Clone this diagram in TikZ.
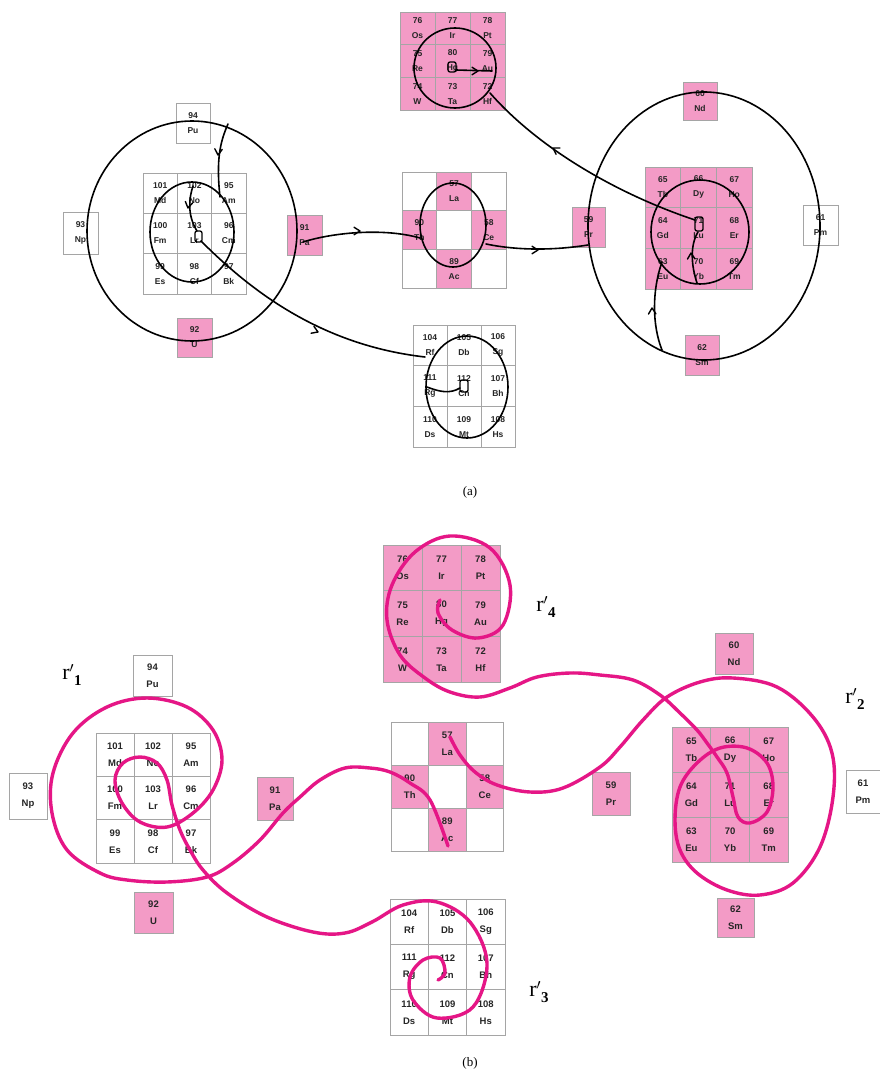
\documentclass[tikz,border=0pt]{standalone}
\usepackage{fontspec}
\setmainfont{Liberation Serif}
\newfontfamily\cellsans{Liberation Sans}
\usetikzlibrary{arrows.meta}

\definecolor{cellpink}{RGB}{243,155,198}
\definecolor{cellline}{RGB}{165,165,165}
\definecolor{spiral}{RGB}{229,22,134}

% a 3x3 block of element tiles: prefix, x0, y0, width, height, style, entries
\newcommand\tilegrid[7]{%
  \foreach \c/\r/\n/\s/\f [count=\k] in {#7}
    \node[#6, fill=\f, minimum width=#4pt, minimum height=#5pt]
      (#1\k) at ({#2+#4*\c},{#3+#5*\r}) {\n\\\s};}

% an open arrow barb with its tip at a named coordinate, pointing along an angle
\newcommand\barbat[2]{%
  \draw[ink, line width=1.4pt] (#1) ++(#2+148:7) -- (#1) -- ++(#2-148:7);}

% radius label r' with a bold index
\newcommand\rlabel[1]{r$'$\raisebox{-6pt}{\fontsize{15}{15}\selectfont\bfseries #1}}

\begin{document}
\begin{tikzpicture}[x=1pt,y=-1pt,
  cell/.style={draw=cellline, line width=0.5pt, inner sep=0pt, outer sep=0pt,
               anchor=north west, align=center, text=black!85},
  ca/.style={cell, font={\cellsans\bfseries\fontsize{8.5}{15}\selectfont}},
  cb/.style={cell, font={\cellsans\bfseries\fontsize{9.5}{17}\selectfont}},
  ink/.style={line width=1.6pt, black, line cap=round, line join=round},
  pinkline/.style={line width=3.4pt, spiral, line cap=round, line join=round},
  lbl/.style={inner sep=0pt, font=\fontsize{22}{22}\selectfont},
  captext/.style={inner sep=0pt, font=\fontsize{13}{13}\selectfont},
]
\fill[white] (0,0) rectangle (880,1078);
\useasboundingbox (0,0) rectangle (880,1078);

% ---------------- panel (a): element tiles ----------------
\tilegrid{aL}{143}{173}{34.3}{40.3}{ca}{0/0/101/Md/white, 1/0/102/No/white, 2/0/95/Am/white,
  0/1/100/Fm/white, 1/1/103/Lr/white, 2/1/96/Cm/white, 0/2/99/Es/white, 1/2/98/Cf/white, 2/2/97/Bk/white}
\tilegrid{aM}{402}{172}{34.7}{38.7}{ca}{0/0/{}/{}/white, 1/0/57/La/cellpink, 2/0/{}/{}/white,
  0/1/90/Th/cellpink, 1/1/{}/{}/white, 2/1/58/Ce/cellpink, 0/2/{}/{}/white, 1/2/89/Ac/cellpink, 2/2/{}/{}/white}
\tilegrid{aT}{400}{12}{35}{32.7}{ca}{0/0/76/Os/cellpink, 1/0/77/Ir/cellpink, 2/0/78/Pt/cellpink,
  0/1/75/Re/cellpink, 1/1/80/Hg/cellpink, 2/1/79/Au/cellpink, 0/2/74/W/cellpink, 1/2/73/Ta/cellpink, 2/2/72/Hf/cellpink}
\tilegrid{aB}{413}{325}{34}{40.7}{ca}{0/0/104/Rf/white, 1/0/105/Db/white, 2/0/106/Sg/white,
  0/1/111/Rg/white, 1/1/112/Cn/white, 2/1/107/Bh/white, 0/2/110/Ds/white, 1/2/109/Mt/white, 2/2/108/Hs/white}
\tilegrid{aR}{645}{167}{35.7}{40.7}{ca}{0/0/65/Tb/cellpink, 1/0/66/Dy/cellpink, 2/0/67/Ho/cellpink,
  0/1/64/Gd/cellpink, 1/1/71/Lu/cellpink, 2/1/68/Er/cellpink, 0/2/63/Eu/cellpink, 1/2/70/Yb/cellpink, 2/2/69/Tm/cellpink}

\node[ca, fill=white,    minimum width=34pt, minimum height=40pt] (aPu) at (176,103) {94\\Pu};
\node[ca, fill=white,    minimum width=35pt, minimum height=42pt] (aNp) at (63,212)  {93\\Np};
\node[ca, fill=cellpink, minimum width=35pt, minimum height=40pt] (aPa) at (287,215) {91\\Pa};
\node[ca, fill=cellpink, minimum width=35pt, minimum height=39pt] (aU)  at (177,318) {92\\U};
\node[ca, fill=cellpink, minimum width=34pt, minimum height=38pt] (aNd) at (683,82)  {60\\Nd};
\node[ca, fill=cellpink, minimum width=33pt, minimum height=40pt] (aPr) at (572,207) {59\\Pr};
\node[ca, fill=white,    minimum width=35pt, minimum height=40pt] (aPm) at (803,205) {61\\Pm};
\node[ca, fill=cellpink, minimum width=34pt, minimum height=40pt] (aSm) at (685,335) {62\\Sm};

% ---------------- panel (a): orbits and paths ----------------
\draw[ink] (192,231) ellipse [x radius=105, y radius=110];
\draw[ink] (192,232) ellipse [x radius=42, y radius=50];
\draw[ink] (455,68)  ellipse [x radius=41, y radius=40];
\draw[ink] (453,225) ellipse [x radius=33, y radius=42];
\draw[ink] (467,387) ellipse [x radius=41, y radius=51];
\draw[ink] (704,226) ellipse [x radius=116, y radius=134];
\draw[ink] (700,232) ellipse [x radius=49, y radius=52];

% small closed loops at the centres
\draw[ink, line width=1.3pt, rounded corners=2pt] (195,231) rectangle (202,242);
\draw[ink, line width=1.3pt, rounded corners=2pt] (448,62)  rectangle (456,72);
\draw[ink, line width=1.3pt, rounded corners=2pt] (460,380) rectangle (468,392);
\draw[ink, line width=1.3pt, rounded corners=2pt] (695,217) rectangle (703,231);

\coordinate (a1s) at (228,124);  \coordinate (a1e) at (220,197);
\coordinate (a2s) at (193,186);  \coordinate (a2e) at (197,231);
\coordinate (a3s) at (201,241);  \coordinate (a3e) at (425,357);
\coordinate (a4s) at (427,387);  \coordinate (a4e) at (460,388);
\coordinate (a5s) at (303,242);  \coordinate (a5e) at (420,238);
\coordinate (a6s) at (486,244);  \coordinate (a6e) at (588,245);
\coordinate (a8s) at (695,220);  \coordinate (a8e) at (490,93);
\coordinate (a9s) at (456,70);   \coordinate (a9e) at (492,71);
\coordinate (a10s) at (697,283); \coordinate (a10e) at (698,232);
\coordinate (a11s) at (662,350); \coordinate (a11e) at (662,262);

\draw[ink] (a1s) .. controls (220,142) and (216,160) .. (a1e);
\draw[ink] (a2s) .. controls (189,198) and (187,215) .. (a2e);
\draw[ink] (a3s) .. controls (250,290) and (320,345) .. (a3e);
\draw[ink] (a4s) .. controls (440,392) and (450,394) .. (a4e);
\draw[ink] (a5s) .. controls (335,232) and (385,228) .. (a5e);
\draw[ink] (a6s) .. controls (515,250) and (550,251) .. (a6e);
\draw[ink] (a8s) .. controls (620,195) and (540,150) .. (a8e);
\draw[ink] (a9s) -- (a9e);
\draw[ink] (a10s) .. controls (691,265) and (690,245) .. (a10e);
\draw[ink] (a11s) .. controls (652,325) and (652,290) .. (a11e);

% arrow barbs along the paths
\coordinate (b1) at (218,155);  \barbat{b1}{95}
\coordinate (b2) at (188,208);  \barbat{b2}{100}
\coordinate (b3) at (318,332);  \barbat{b3}{22}
\coordinate (b5) at (360,231);  \barbat{b5}{0}
\coordinate (b6) at (538,250);  \barbat{b6}{0}
\coordinate (b8) at (553,148);  \barbat{b8}{212}
\coordinate (b9) at (478,71);   \barbat{b9}{0}
\coordinate (b10) at (691,253); \barbat{b10}{268}
\coordinate (b11) at (652,308); \barbat{b11}{268}

\node[captext] (capa) at (470,492) {(a)};

% ---------------- panel (b): element tiles ----------------
\tilegrid{bL}{96}{733}{38}{43.3}{cb}{0/0/101/Md/white, 1/0/102/No/white, 2/0/95/Am/white,
  0/1/100/Fm/white, 1/1/103/Lr/white, 2/1/96/Cm/white, 0/2/99/Es/white, 1/2/98/Cf/white, 2/2/97/Bk/white}
\tilegrid{bM}{391}{722}{37.5}{43}{cb}{0/0/{}/{}/white, 1/0/57/La/cellpink, 2/0/{}/{}/white,
  0/1/90/Th/cellpink, 1/1/{}/{}/white, 2/1/58/Ce/cellpink, 0/2/{}/{}/white, 1/2/89/Ac/cellpink, 2/2/{}/{}/white}
\tilegrid{bT}{383}{545}{39}{45.7}{cb}{0/0/76/Os/cellpink, 1/0/77/Ir/cellpink, 2/0/78/Pt/cellpink,
  0/1/75/Re/cellpink, 1/1/80/Hg/cellpink, 2/1/79/Au/cellpink, 0/2/74/W/cellpink, 1/2/73/Ta/cellpink, 2/2/72/Hf/cellpink}
\tilegrid{bB}{390}{899}{38.3}{45.3}{cb}{0/0/104/Rf/white, 1/0/105/Db/white, 2/0/106/Sg/white,
  0/1/111/Rg/white, 1/1/112/Cn/white, 2/1/107/Bh/white, 0/2/110/Ds/white, 1/2/109/Mt/white, 2/2/108/Hs/white}
\tilegrid{bR}{672}{727}{38.7}{45}{cb}{0/0/65/Tb/cellpink, 1/0/66/Dy/cellpink, 2/0/67/Ho/cellpink,
  0/1/64/Gd/cellpink, 1/1/71/Lu/cellpink, 2/1/68/Er/cellpink, 0/2/63/Eu/cellpink, 1/2/70/Yb/cellpink, 2/2/69/Tm/cellpink}

\node[cb, fill=white,    minimum width=39pt, minimum height=41pt] (bPu) at (133,655) {94\\Pu};
\node[cb, fill=white,    minimum width=38pt, minimum height=46pt] (bNp) at (9,773)   {93\\Np};
\node[cb, fill=cellpink, minimum width=36pt, minimum height=43pt] (bPa) at (257,777) {91\\Pa};
\node[cb, fill=cellpink, minimum width=39pt, minimum height=41pt] (bU)  at (134,892) {92\\U};
\node[cb, fill=cellpink, minimum width=38pt, minimum height=41pt] (bNd) at (715,633) {60\\Nd};
\node[cb, fill=cellpink, minimum width=38pt, minimum height=43pt] (bPr) at (592,772) {59\\Pr};
\node[cb, fill=white,    minimum width=34pt, minimum height=43pt] (bPm) at (846,770) {61\\Pm};
\node[cb, fill=cellpink, minimum width=37pt, minimum height=39pt] (bSm) at (717,898) {62\\Sm};

% ---------------- panel (b): spirals ----------------
\coordinate (s1s) at (448,846); \coordinate (s1e) at (438,980);
\coordinate (s2s) at (450,737); \coordinate (s2e) at (440,600);

% from Ac round the left spiral and into the lower one
\draw[pinkline] plot[smooth, tension=0.6] coordinates {(s1s) (430,800) (410,783) (390,772)
  (370,768) (345,768) (320,780) (300,797) (283,813) (260,840) (233,863) (207,877) (167,882)
  (127,880) (100,873) (67,850) (52,813) (53,773) (73,733) (107,707) (147,698) (187,707)
  (213,730) (222,760) (213,790) (193,813) (167,827) (140,822) (122,803) (115,780) (123,763)
  (140,757) (157,763) (167,780) (172,805) (180,830) (190,850) (203,870) (227,893) (267,917)
  (313,932) (345,933) (372,922) (403,905) (437,902) (470,922) (487,963) (473,1007) (437,1018)
  (413,1000) (410,977) (423,960) (440,958) (445,973) (s1e)};

% from La round the right spiral and into the upper one
\draw[pinkline] plot[smooth, tension=0.6] coordinates {(s2s) (460,755) (475,772) (497,785)
  (530,792) (563,788) (600,767) (620,747) (643,720) (667,697) (700,682) (733,678) (777,687)
  (813,717) (832,753) (833,797) (820,847) (793,883) (760,895) (727,890) (697,873) (680,850)
  (675,820) (680,787) (697,763) (720,748) (747,748) (767,763) (773,787) (767,812) (750,823)
  (738,817) (733,797) (727,773) (717,757) (707,743) (697,730) (680,713) (660,695) (633,680)
  (600,675) (570,673) (537,677) (510,688) (480,697) (450,692) (425,678) (400,655) (387,620)
  (392,585) (415,552) (450,536) (490,548) (510,585) (503,625) (478,638) (452,630) (438,613) (s2e)};

\node[lbl] (r1) at (72,675)  {\rlabel{1}};
\node[lbl] (r2) at (855,699) {\rlabel{2}};
\node[lbl] (r3) at (539,992) {\rlabel{3}};
\node[lbl] (r4) at (546,607) {\rlabel{4}};

\node[captext] (capb) at (470,1063) {(b)};
\end{tikzpicture}
\end{document}
